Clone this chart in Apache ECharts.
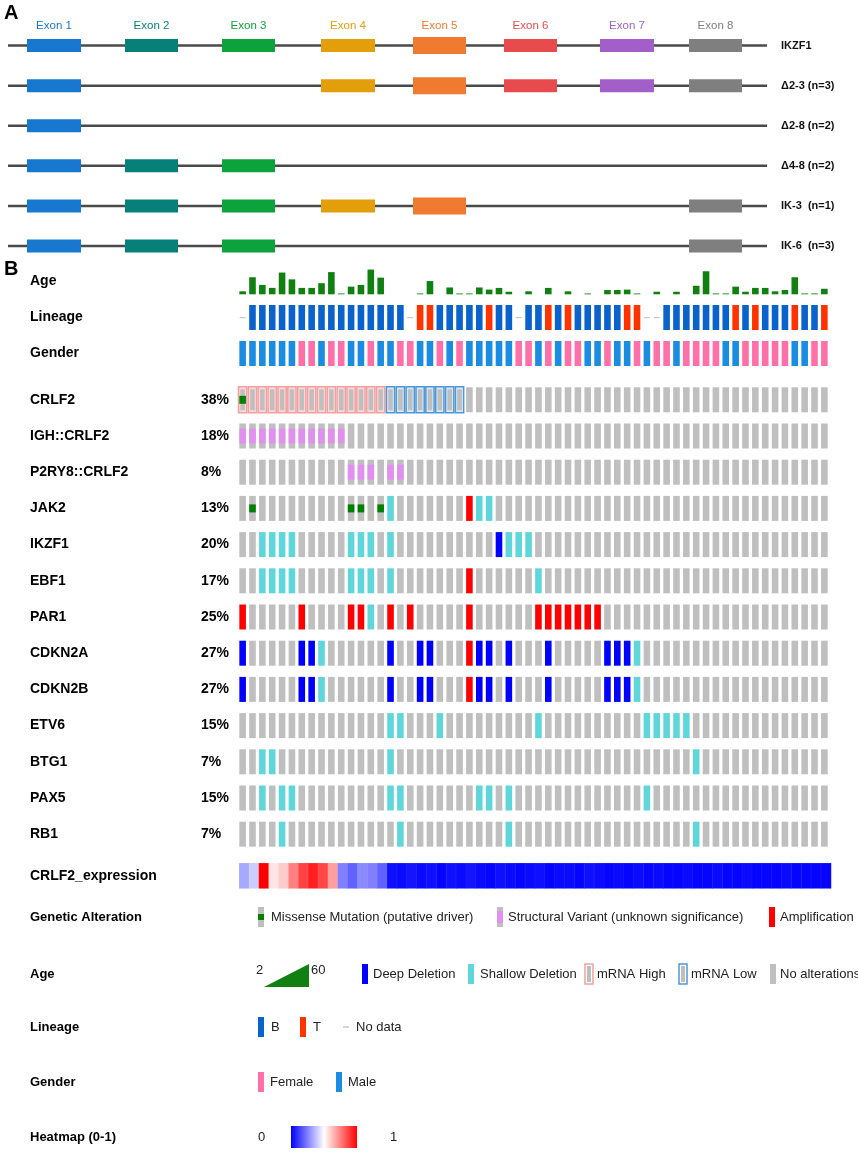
<!DOCTYPE html>
<html>
<head>
<meta charset="utf-8">
<title>IKZF1 isoforms and oncoprint</title>
<script src="https://cdn.jsdelivr.net/npm/echarts@6.0.0/dist/echarts.min.js"></script>
<style>
  html, body { margin: 0; padding: 0; background: #fff; }
  #chart { width: 858px; height: 1154px; }
</style>
</head>
<body>
<div id="chart"></div>
<script>
// ---- panel A: IKZF1 transcripts ----
const transcripts = ['IKZF1', 'Δ2-3 (n=3)', 'Δ2-8 (n=2)', 'Δ4-8 (n=2)', 'IK-3  (n=1)', 'IK-6  (n=3)'];
const exonNames = ['Exon 1', 'Exon 2', 'Exon 3', 'Exon 4', 'Exon 5', 'Exon 6', 'Exon 7', 'Exon 8'];
const exonStart = [19, 117, 214, 313, 405, 496, 592, 681];
const exonEnd = [73, 170, 267, 367, 458, 549, 646, 734];
const geneSpan = [0, 759];
const transcriptExons = [
  [1, 2, 3, 4, 5, 6, 7, 8],
  [1, 4, 5, 6, 7, 8],
  [1],
  [1, 2, 3],
  [1, 2, 3, 4, 5, 8],
  [1, 2, 3, 8]
];

// ---- panel B: oncoprint ----
const samples = Array.from({ length: 60 }, (_, i) => 'P' + (i + 1));
const ages = [7, 40, 22, 15, 51, 35, 15, 15, 26, 52, 2, 18, 22, 58, 39, null, null, null, 2, 31,
  null, 16, 2, 2, 16, 11, 15, 6, null, 7, null, 15, null, 7, null, 2, null, 10, 10, 11,
  2, null, 6, null, 6, null, 20, 54, 2, 2, 18, 6, 15, 15, 7, 10, 40, 2, 2, 13];
const ageRange = [2, 60];
const lineage = '-BBBBBBBBBBBBBBBB-TTBBBBBTBB-BBTBTBBBBBTT--BBBBBBBTBTBBBTBBT'.split('');
const gender = ('MMMMMMFFMFFMMFMMFFMMFMF' + 'MMMMMFFMFMFFMMFMMFMFFMFFFFMMFFFFFMMFF').split('');
const clinTracks = ['Age', 'Lineage', 'Gender'];
const genes = ['CRLF2', 'IGH::CRLF2', 'P2RY8::CRLF2', 'JAK2', 'IKZF1', 'EBF1', 'PAR1',
  'CDKN2A', 'CDKN2B', 'ETV6', 'BTG1', 'PAX5', 'RB1'];
// M missense, V structural variant, A amplification, D deep deletion,
// S shallow deletion, H mRNA high, L mRNA low  (letter + sample index)
const geneAlterations = [
  'M0 H0 H1 H2 H3 H4 H5 H6 H7 H8 H9 H10 H11 H12 H13 H14 L15 L16 L17 L18 L19 L20 L21 L22',
  'V0 V1 V2 V3 V4 V5 V6 V7 V8 V9 V10',
  'V11 V12 V13 V15 V16',
  'M1 M11 M12 M14 S15 A23 S24 S25',
  'S2 S3 S4 S5 S11 S12 S13 S15 D26 S27 S28 S29',
  'S2 S3 S4 S5 S11 S12 S13 S15 A23 S30',
  'A0 A6 A11 A12 S13 A15 A17 A23 A30 A31 A32 A33 A34 A35 A36',
  'D0 D6 D7 S8 D15 D18 D19 A23 D24 D25 D27 D31 D37 D38 D39 S40',
  'D0 D6 D7 S8 D15 D18 D19 A23 D24 D25 D27 D31 D37 D38 D39 S40',
  'S15 S16 S20 S30 S41 S42 S43 S44 S45',
  'S2 S3 S15 S46',
  'S2 S4 S5 S15 S16 S24 S25 S27 S41',
  'S4 S16 S27 S46'
];
const expressionTrack = ['CRLF2_expression'];
const crlf2Expression = [0.33, 0.40, 1.0, 0.55, 0.60, 0.75, 0.87, 0.94, 0.86, 0.69,
  0.25, 0.19, 0.27, 0.25, 0.19, 0.03, 0.02, 0.04, 0.02, 0.03, 0.01, 0.03, 0.02, 0.04, 0.02,
  0.01, 0.03, 0.02, 0.01, 0.02, 0.03, 0.01, 0.02, 0.02, 0.01, 0.03, 0.02, 0.01, 0.02, 0.01,
  0.02, 0.01, 0.02, 0.01, 0.01, 0.02, 0.01, 0.01, 0.02, 0.01, 0.01, 0.02, 0.01, 0.01, 0.01,
  0.02, 0.01, 0.01, 0.01, 0.01];

// ---- styles ----
const FONT = "'Liberation Sans', Arial, sans-serif";
const exonColors = ['#1878cf', '#08807a', '#0ca33c', '#e39e0c', '#ef7a30', '#e84b4e', '#a25fc9', '#7f7f7f'];
const GRAY = '#bfbfbf';
const colors = {
  M: '#008000', V: '#e190ef', A: '#ff0000', D: '#0000ff', S: '#5fd7da',
  H: '#f4a0a0', L: '#4f98d8', B: '#0a62cc', T: '#ff3300', F: '#ff6fa8', Male: '#1a8ce2', age: '#108010'
};
const CELL_W = 6.6, CELL_H = 25;
const oncoLeft = 237.7, oncoWidth = 591.6;

// ---- derived data for the marks ----
const exonData = [];
transcriptExons.forEach((ex, r) => ex.forEach(n => exonData.push([exonStart[n - 1], exonEnd[n - 1], r, n - 1])));
const lineData = transcripts.map((t, r) => [geneSpan[0], r, geneSpan[1]]);

const cellData = [], cellCodes = [];
const pctLabels = genes.map((g, r) => {
  const codes = samples.map(() => []);
  geneAlterations[r].split(' ').forEach(tok => codes[+tok.slice(1)].push(tok[0]));
  codes.forEach((cs, c) => { cellData.push([c, r]); cellCodes.push(cs); });
  return Math.round(codes.filter(cs => cs.length).length / samples.length * 100) + '%';
});

const chart = echarts.init(document.getElementById('chart'));

function cellRect(c, h, fill) {
  return { type: 'rect', shape: { x: c[0] - CELL_W / 2, y: c[1] - h / 2, width: CELL_W, height: h }, style: { fill } };
}

function renderGeneCell(params, api) {
  const c = api.coord([api.value(0), api.value(1)]);
  const band = api.size([1, 0])[0];
  const codes = cellCodes[params.dataIndex];
  const kids = [];
  const mrna = codes.find(k => k === 'H' || k === 'L');
  const full = codes.find(k => k === 'A' || k === 'D' || k === 'S');
  if (mrna) {
    kids.push({
      type: 'rect',
      shape: { x: c[0] - band / 2 + 0.8, y: c[1] - CELL_H / 2 - 0.5, width: band - 1.6, height: CELL_H + 1 },
      style: { fill: mrna === 'H' ? '#fbdada' : '#dbe9f6', stroke: colors[mrna], lineWidth: 1.5 }
    });
    kids.push({ type: 'rect', shape: { x: c[0] - 2.3, y: c[1] - CELL_H / 2 + 2, width: 4.6, height: CELL_H - 4 }, style: { fill: GRAY } });
  } else {
    kids.push(cellRect(c, CELL_H, full ? colors[full] : GRAY));
  }
  if (codes.includes('V')) kids.push(cellRect(c, 15, colors.V));
  if (codes.includes('M')) kids.push(cellRect(c, 8, colors.M));
  return { type: 'group', children: kids };
}

const hiddenCat = (grid) => ({ type: 'category', gridIndex: grid, data: samples, show: false });
const rowLabel = { fontFamily: FONT, fontWeight: 'bold', fontSize: 14, color: '#000', align: 'left' };
const gridBox = (left, top, width, height) => ({ left, top, width, height, outerBoundsMode: 'none', containLabel: false });

const option = {
  animation: false,
  backgroundColor: '#fff',
  grid: [
    gridBox(8, 25.5, 759, 240.6),
    gridBox(oncoLeft, 263.5, oncoWidth, 108),
    gridBox(oncoLeft, 268.7, oncoWidth, 25.6),
    gridBox(oncoLeft, 381.7, oncoWidth, 470.6),
    gridBox(239.3, 863.3, 591.7, 25)
  ],
  xAxis: [
    { type: 'value', gridIndex: 0, min: geneSpan[0], max: geneSpan[1], show: false },
    hiddenCat(1), hiddenCat(2), hiddenCat(3), hiddenCat(4)
  ],
  yAxis: [
    {
      type: 'category', gridIndex: 0, data: transcripts, inverse: true, position: 'right',
      axisLine: { show: false }, axisTick: { show: false },
      axisLabel: { margin: 14, fontFamily: FONT, fontWeight: 'bold', fontSize: 11, color: '#111' }
    },
    {
      type: 'category', gridIndex: 1, data: clinTracks, inverse: true, position: 'left',
      axisLine: { show: false }, axisTick: { show: false },
      axisLabel: Object.assign({ margin: oncoLeft - 30 }, rowLabel)
    },
    { type: 'value', gridIndex: 2, min: 0, max: ageRange[1], show: false },
    {
      type: 'category', gridIndex: 3, data: genes, inverse: true, position: 'left',
      axisLine: { show: false }, axisTick: { show: false },
      axisLabel: Object.assign({ margin: oncoLeft - 30 }, rowLabel)
    },
    {
      type: 'category', gridIndex: 3, data: genes, inverse: true, position: 'left', offset: 0,
      axisLine: { show: false }, axisTick: { show: false },
      axisLabel: Object.assign({ margin: oncoLeft - 201, formatter: (v, i) => pctLabels[i] }, rowLabel)
    },
    {
      type: 'category', gridIndex: 4, data: expressionTrack, position: 'left',
      axisLine: { show: false }, axisTick: { show: false },
      axisLabel: Object.assign({ margin: 239.3 - 30 }, rowLabel)
    }
  ],
  visualMap: {
    type: 'continuous', show: false, min: 0, max: 1, seriesIndex: 6,
    inRange: { color: ['#0000ff', '#ffffff', '#ff0000'] }
  },
  series: [
    {
      type: 'custom', xAxisIndex: 0, yAxisIndex: 0, data: lineData,
      renderItem: (params, api) => {
        const a = api.coord([api.value(0), api.value(1)]);
        const b = api.coord([api.value(2), api.value(1)]);
        return { type: 'line', shape: { x1: a[0], y1: a[1], x2: b[0], y2: b[1] }, style: { stroke: '#4a4a4a', lineWidth: 2.5 } };
      }
    },
    {
      type: 'custom', xAxisIndex: 0, yAxisIndex: 0, data: exonData,
      renderItem: (params, api) => {
        const s = api.coord([api.value(0), api.value(2)]);
        const e = api.coord([api.value(1), api.value(2)]);
        const k = api.value(3);
        const h = k === 4 ? 17 : 13;
        const kids = [{ type: 'rect', shape: { x: s[0], y: s[1] - h / 2, width: e[0] - s[0], height: h }, style: { fill: exonColors[k] } }];
        if (api.value(2) === 0) {
          kids.push({
            type: 'text', x: (s[0] + e[0]) / 2, y: s[1] - 20,
            style: { text: exonNames[k], fill: exonColors[k], font: '11.5px ' + FONT, align: 'center', verticalAlign: 'middle' }
          });
        }
        return { type: 'group', children: kids };
      }
    },
    {
      type: 'custom', xAxisIndex: 1, yAxisIndex: 1,
      data: lineage.map((v, i) => [i, 1]),
      renderItem: (params, api) => {
        const c = api.coord([api.value(0), api.value(1)]);
        const v = lineage[params.dataIndex];
        if (v === '-') {
          return { type: 'rect', shape: { x: c[0] - 3, y: c[1] - 0.5, width: 6, height: 1.2 }, style: { fill: '#c8c8c8' } };
        }
        return cellRect(c, CELL_H, colors[v]);
      }
    },
    {
      type: 'custom', xAxisIndex: 1, yAxisIndex: 1,
      data: gender.map((v, i) => [i, 2]),
      renderItem: (params, api) => {
        const c = api.coord([api.value(0), api.value(1)]);
        return cellRect(c, CELL_H, gender[params.dataIndex] === 'F' ? colors.F : colors.Male);
      }
    },
    {
      type: 'bar', xAxisIndex: 2, yAxisIndex: 2, data: ages, barWidth: CELL_W,
      itemStyle: { color: colors.age }
    },
    {
      type: 'custom', xAxisIndex: 3, yAxisIndex: 3, data: cellData, renderItem: renderGeneCell
    },
    {
      type: 'heatmap', xAxisIndex: 4, yAxisIndex: 5,
      data: crlf2Expression.map((v, i) => [i, 0, v]),
      itemStyle: { borderColor: 'rgba(255,255,255,0.12)', borderWidth: 0.5 }
    }
  ],
  graphic: []
};

// ---- legend (static drawing) ----
const g = option.graphic;
const txt = (x, y, text, bold, size) => g.push({
  type: 'text', x, y,
  style: { text, font: (bold ? 'bold ' : '') + (size || 13) + 'px ' + FONT, fill: bold ? '#000' : '#222', verticalAlign: 'middle' }
});
const bar = (x, yc, fill, h) => g.push({ type: 'rect', shape: { x, y: yc - (h || 20) / 2, width: 6, height: h || 20 }, style: { fill } });
const outline = (x, yc, stroke) => {
  g.push({ type: 'rect', shape: { x: x - 1, y: yc - 10, width: 8, height: 20 }, style: { fill: '#fff', stroke, lineWidth: 1.5 } });
  g.push({ type: 'rect', shape: { x: x + 1, y: yc - 8, width: 4, height: 16 }, style: { fill: GRAY } });
};

txt(4, 13, 'A', true, 20);
txt(4, 269, 'B', true, 20);

let y = 917;
txt(30, y, 'Genetic Alteration', true);
bar(258, y, GRAY); bar(258, y, colors.M, 6); txt(271, y, 'Missense Mutation (putative driver)');
bar(497, y, GRAY); bar(497, y, colors.V, 12); txt(508, y, 'Structural Variant (unknown significance)');
bar(769, y, colors.A); txt(780, y, 'Amplification');

y = 974;
txt(30, y, 'Age', true);
txt(256, y - 4, String(ageRange[0]));
g.push({ type: 'polygon', shape: { points: [[264, 987], [309, 987], [309, 964]] }, style: { fill: colors.age } });
txt(311, y - 4, String(ageRange[1]));
bar(362, y, colors.D); txt(373, y, 'Deep Deletion');
bar(468, y, colors.S); txt(480, y, 'Shallow Deletion');
outline(586, y, colors.H); txt(597, y, 'mRNA High');
outline(680, y, colors.L); txt(691, y, 'mRNA Low');
bar(770, y, GRAY); txt(780, y, 'No alterations');

y = 1027;
txt(30, y, 'Lineage', true);
bar(258, y, colors.B); txt(271, y, 'B');
bar(300, y, colors.T); txt(313, y, 'T');
g.push({ type: 'rect', shape: { x: 343, y: y - 0.6, width: 6, height: 1.2 }, style: { fill: '#bbb' } });
txt(356, y, 'No data');

y = 1082;
txt(30, y, 'Gender', true);
bar(258, y, colors.F); txt(270, y, 'Female');
bar(336, y, colors.Male); txt(348, y, 'Male');

y = 1137;
txt(30, y, 'Heatmap (0-1)', true);
txt(258, y, '0');
g.push({
  type: 'rect', shape: { x: 291, y: y - 11, width: 66, height: 22 },
  style: { fill: new echarts.graphic.LinearGradient(0, 0, 1, 0, [
    { offset: 0, color: '#0000ff' }, { offset: 0.5, color: '#ffffff' }, { offset: 1, color: '#ff0000' }
  ]) }
});
txt(390, y, '1');

chart.setOption(option);
</script>
</body>
</html>
